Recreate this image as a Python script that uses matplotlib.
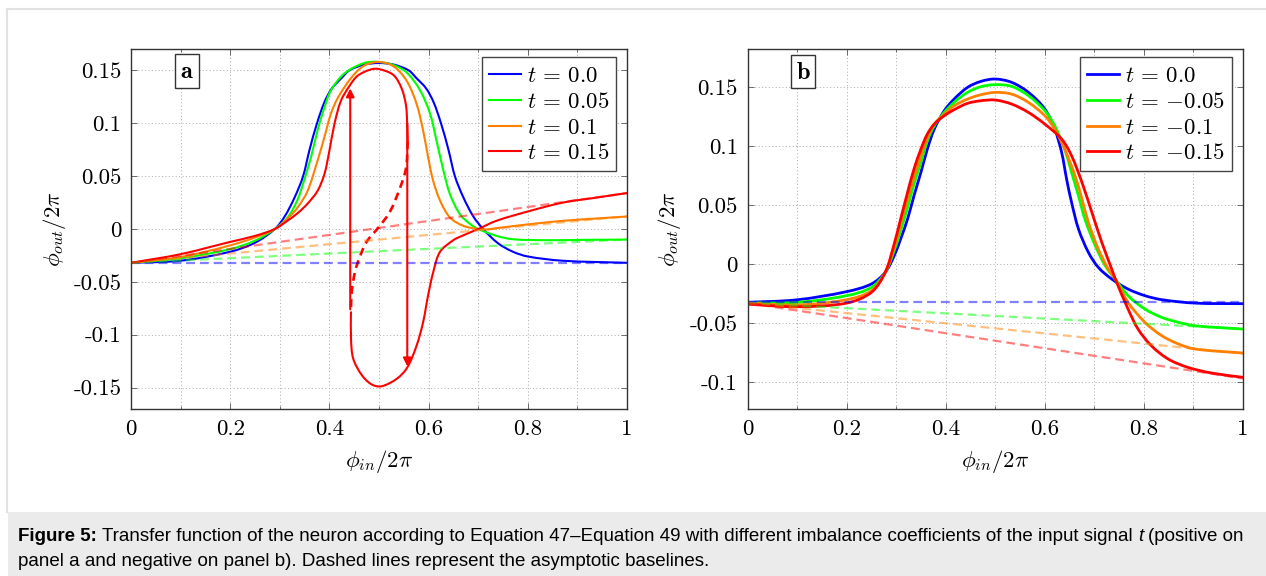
import numpy as np
import matplotlib
matplotlib.use("Agg")
import matplotlib.pyplot as plt
from matplotlib.patches import Rectangle, PathPatch
from matplotlib.lines import Line2D
from matplotlib.path import Path

# transfer function of the neuron
# panel a: positive imbalance t, panel b: negative imbalance t

plt.rcParams["mathtext.fontset"] = "cm"

# ---------------- panel a ----------------
a_blue_x = [0, 0.1, 0.2, 0.25, 0.29, 0.31, 0.33, 0.347, 0.36, 0.375, 0.39, 0.405, 0.425, 0.44, 0.47, 0.5,
            0.53, 0.56, 0.575, 0.595, 0.61, 0.625, 0.64, 0.653, 0.67, 0.69, 0.71, 0.74, 0.77, 0.8, 0.87, 1.0]
a_blue_y = [-0.032, -0.030, -0.0215, -0.013, 0.0, 0.012, 0.030, 0.050, 0.075, 0.100, 0.120, 0.133, 0.143, 0.150, 0.1555, 0.157,
            0.1555, 0.150, 0.143, 0.133, 0.120, 0.100, 0.075, 0.050, 0.030, 0.012, 0.0, -0.0135, -0.0215, -0.026, -0.030, -0.032]

a_green_x = [0, 0.1, 0.2, 0.25, 0.29, 0.316, 0.336, 0.349, 0.363, 0.376, 0.39, 0.403, 0.43, 0.47, 0.5,
             0.53, 0.556, 0.583, 0.603, 0.616, 0.63, 0.643, 0.663, 0.684, 0.70, 0.737, 0.77, 0.838, 0.906, 1.0]
a_green_y = [-0.032, -0.0277, -0.019, -0.011, 0.0, 0.011, 0.028, 0.046, 0.068, 0.093, 0.115, 0.131, 0.147, 0.157, 0.158,
             0.155, 0.148, 0.131, 0.109, 0.0835, 0.055, 0.033, 0.0141, 0.0046, 0.0, -0.0065, -0.0097, -0.0106, -0.0103, -0.0100]

a_orange_x = [0, 0.1, 0.2, 0.25, 0.29, 0.316, 0.336, 0.356, 0.376, 0.39, 0.403, 0.417, 0.444, 0.47, 0.5,
              0.529, 0.556, 0.576, 0.589, 0.599, 0.609, 0.623, 0.643, 0.67, 0.70, 0.72, 0.737, 0.805, 0.872, 0.94, 1.0]
a_orange_y = [-0.032, -0.0265, -0.0155, -0.008, 0.0, 0.010, 0.0204, 0.036, 0.0645, 0.087, 0.109, 0.124, 0.143, 0.1545, 0.158,
              0.154, 0.140, 0.118, 0.093, 0.068, 0.046, 0.027, 0.0109, 0.003, 0.0, -0.0003, 0.0008, 0.0046, 0.0078, 0.010, 0.0118]

# t = 0.15 is bistable: upper stable branch, unstable (dashed) branch, lower stable branch
a_red_up_x = [0, 0.1, 0.2, 0.25, 0.29, 0.316, 0.336, 0.356, 0.376, 0.39, 0.40, 0.41, 0.423, 0.44, 0.457, 0.484, 0.5,
              0.529, 0.5456, 0.5544, 0.557, 0.558]
a_red_up_y = [-0.032, -0.0238, -0.0122, -0.0065, 0.0, 0.008, 0.015, 0.024, 0.036, 0.052, 0.074, 0.099, 0.121, 0.135, 0.145, 0.151, 0.1513,
              0.1457, 0.133, 0.117, 0.098, 0.083]
a_red_mid_x = [0.558, 0.5544, 0.542, 0.522, 0.5, 0.475, 0.46, 0.4516, 0.445, 0.4435]
a_red_mid_y = [0.083, 0.0573, 0.0384, 0.0163, 0.002, -0.0121, -0.028, -0.0405, -0.0595, -0.0784]
a_red_low_x = [0.4435, 0.4436, 0.448, 0.465, 0.485, 0.505, 0.536, 0.557, 0.576, 0.589, 0.599, 0.6095, 0.623, 0.65, 0.663,
               0.70, 0.737, 0.805, 0.872, 0.94, 1.0]
a_red_low_y = [-0.078, -0.104, -0.1226, -0.138, -0.147, -0.1488, -0.1416, -0.131, -0.110, -0.088, -0.0627, -0.0405, -0.0216, -0.0105, -0.0074,
               0.0, 0.0078, 0.0172, 0.0251, 0.0298, 0.034]

# jumps of the hysteresis loop (x, y_from, y_to)
a_jump_up = (0.442, -0.076, 0.133)
a_jump_down = (0.557, 0.10, -0.130)

# asymptotic baselines (end points)
a_base_x = [0, 1]
a_base_blue = [-0.032, -0.032]
a_base_green = [-0.032, -0.010]
a_base_orange = [-0.032, 0.012]
a_base_red = [-0.032, 0.034]

a_labels = [r"$t\,=\,0.0$", r"$t\,=\,0.05$", r"$t\,=\,0.1$", r"$t\,=\,0.15$"]

# ---------------- panel b ----------------
b_rise_x = [0, 0.1, 0.2, 0.25, 0.278, 0.296, 0.309, 0.323, 0.336, 0.35, 0.363, 0.377, 0.397, 0.417, 0.444, 0.471, 0.5]

b_blue_y_rise = [-0.0325, -0.0303, -0.0234, -0.0169, -0.007, 0.007, 0.0212, 0.0381, 0.0579, 0.0777, 0.0975, 0.1144, 0.1299, 0.1398, 0.1497, 0.1548, 0.1568]
b_blue_x_fall = [0.533, 0.567, 0.6, 0.62, 0.634, 0.644, 0.654, 0.668, 0.688, 0.708, 0.735, 0.768, 0.802, 0.836, 0.903, 1.0]
b_blue_y_fall = [0.154, 0.1455, 0.1314, 0.1144, 0.0946, 0.072, 0.0523, 0.0297, 0.0099, -0.0028, -0.0127, -0.0212, -0.0268, -0.0302, -0.0331, -0.0336]

b_green_y_rise = [-0.033, -0.0325, -0.0268, -0.0198, -0.007, 0.0113, 0.0282, 0.048, 0.0678, 0.0862, 0.1045, 0.1172, 0.1285, 0.137, 0.1455, 0.1503, 0.152]
b_green_x_fall = [0.533, 0.567, 0.6, 0.62, 0.64, 0.654, 0.668, 0.681, 0.702, 0.722, 0.742, 0.768, 0.802, 0.836, 0.87, 0.903, 1.0]
b_green_y_fall = [0.1506, 0.1427, 0.13, 0.1172, 0.0975, 0.0777, 0.0579, 0.0381, 0.0155, -0.0014, -0.0127, -0.0268, -0.0381, -0.0452, -0.0494, -0.0523, -0.0551]

b_orange_y_rise = [-0.033, -0.0347, -0.0302, -0.0226, -0.007, 0.0141, 0.0339, 0.055, 0.0734, 0.0918, 0.1073, 0.1186, 0.127, 0.1341, 0.1398, 0.1435, 0.1455]
b_orange_x_fall = [0.533, 0.567, 0.6, 0.62, 0.64, 0.661, 0.675, 0.688, 0.708, 0.728, 0.742, 0.768, 0.802, 0.836, 0.87, 0.903, 1.0]
b_orange_y_fall = [0.144, 0.137, 0.1257, 0.1144, 0.0975, 0.0749, 0.055, 0.0353, 0.0127, -0.0042, -0.0127, -0.0325, -0.0494, -0.0607, -0.0678, -0.072, -0.0754]

b_red_y_rise = [-0.034, -0.0362, -0.0331, -0.024, -0.007, 0.017, 0.0381, 0.0607, 0.0805, 0.0975, 0.1102, 0.1186, 0.1257, 0.1308, 0.1362, 0.1384, 0.139]
b_red_x_fall = [0.533, 0.567, 0.6, 0.634, 0.654, 0.675, 0.695, 0.715, 0.735, 0.745, 0.768, 0.788, 0.815, 0.849, 0.889, 0.937, 1.0]
b_red_y_fall = [0.1356, 0.1285, 0.1186, 0.1059, 0.0918, 0.0692, 0.0438, 0.0184, -0.0042, -0.0155, -0.0381, -0.055, -0.0692, -0.0805, -0.0876, -0.0924, -0.096]

b_base_x = [0, 1]
b_base_blue = [-0.0325, -0.0325]
b_base_green = [-0.033, -0.055]
b_base_orange = [-0.033, -0.076]
b_base_red = [-0.033, -0.097]

b_labels = [r"$t\,=\,0.0$", r"$t\,=\,{-0.05}$", r"$t\,=\,{-0.1}$", r"$t\,=\,{-0.15}$"]

# ticks
x_ticks = [0, 0.2, 0.4, 0.6, 0.8, 1]
x_tick_labels = ["0", "0.2", "0.4", "0.6", "0.8", "1"]
a_y_ticks = [-0.15, -0.1, -0.05, 0, 0.05, 0.1, 0.15]
a_y_tick_labels = ["-0.15", "-0.1", "-0.05", "0", "0.05", "0.1", "0.15"]
b_y_ticks = [-0.1, -0.05, 0, 0.05, 0.1, 0.15]
b_y_tick_labels = ["-0.1", "-0.05", "0", "0.05", "0.1", "0.15"]

caption_1 = [("Figure 5:", "bold", "normal"),
             ("Transfer function of the neuron according to Equation 47\u2013Equation 49 with different imbalance coefficients of the input signal", "normal", "normal"),
             ("t", "normal", "italic"),
             ("(positive on", "normal", "normal")]
caption_2 = [("panel a and negative on panel b). Dashed lines represent the asymptotic baselines.", "normal", "normal")]

BLUE, GREEN, ORANGE, RED = "#0000ff", "#00ff00", "#ff8000", "#ff0000"
FS = 16.5

W, H = 1266, 576
fig = plt.figure(figsize=(W / 100, H / 100), dpi=100)

# outer frame and caption box
fig.add_artist(Line2D([7 / W, 1], [1 - 9 / H, 1 - 9 / H], color="#e2e2e2", lw=1.5))
fig.add_artist(Line2D([7 / W, 7 / W], [1 - 9 / H, 1 - 512 / H], color="#e2e2e2", lw=1.5))
fig.add_artist(Rectangle((8 / W, 0), 1 - 8 / W, 1 - 512 / H, color="#ebebeb", lw=0))

ax_a = fig.add_axes([131 / W, 1 - 408.7 / H, 496 / W, 359.4 / H])
ax_b = fig.add_axes([747.5 / W, 1 - 408.7 / H, 495.5 / W, 359.4 / H])


def smooth_line(ax, xs, ys, sy, **kw):
    # chord-length Catmull-Rom through the read points, drawn as cubic Bezier pieces
    # sy: pixels per y unit relative to x (so the tangents are taken in screen space)
    sx = 496.0
    p = np.column_stack([np.asarray(xs, float) * sx, np.asarray(ys, float) * sy])
    n = len(p)
    d = np.hypot(*np.diff(p, axis=0).T)
    tang = np.zeros_like(p)
    tang[0] = (p[1] - p[0]) / d[0]
    tang[-1] = (p[-1] - p[-2]) / d[-1]
    for i in range(1, n - 1):
        tang[i] = (p[i + 1] - p[i - 1]) / (d[i - 1] + d[i])
    verts = [p[0]]
    codes = [Path.MOVETO]
    for i in range(n - 1):
        verts += [p[i] + tang[i] * d[i] / 3, p[i + 1] - tang[i + 1] * d[i] / 3, p[i + 1]]
        codes += [Path.CURVE4] * 3
    verts = np.array(verts) / [sx, sy]
    ax.add_patch(PathPatch(Path(verts, codes), fill=False, joinstyle="round", capstyle="butt", **kw))


def style_axes(ax, yticks, ylabels, ylim, ylabelpad):
    ax.set_xlim(0, 1)
    ax.set_ylim(*ylim)
    ax.set_xticks(x_ticks)
    ax.set_xticks([0.1, 0.3, 0.5, 0.7, 0.9], minor=True)
    ax.set_xticklabels(x_tick_labels, fontfamily="cmr10", fontsize=FS)
    ax.set_yticks(yticks)
    ax.set_yticklabels(ylabels, fontfamily="cmr10", fontsize=FS)
    ax.tick_params(which="both", direction="in", top=True, right=True, width=0.6, color="#555555")
    ax.tick_params(which="major", length=4)
    ax.tick_params(which="minor", length=2.5)
    ax.tick_params(axis="x", pad=8)
    ax.tick_params(axis="y", pad=7)
    ax.grid(True, which="both", linestyle=(0, (1, 2.5)), color="#aaaaaa", linewidth=0.7)
    ax.set_axisbelow(True)
    for s in ax.spines.values():
        s.set_linewidth(1.0)
        s.set_color("#333333")
    ax.set_xlabel(r"$\phi_{in}/2\pi$", fontsize=FS, labelpad=6)
    ax.set_ylabel(r"$\phi_{out}/2\pi$", fontsize=FS, labelpad=ylabelpad)


def legend(ax, labels, colors, lw):
    handles = [Line2D([0], [0], color=c, lw=lw) for c in colors]
    leg = ax.legend(handles, labels, loc="upper right", bbox_to_anchor=(1 - 11 / 496, 1 - 8 / 359.4),
                    borderaxespad=0, fontsize=FS, handlelength=1.4, handletextpad=0.25,
                    labelspacing=0.12, borderpad=0.3, fancybox=False, framealpha=1)
    leg.get_frame().set_edgecolor("#444444")
    leg.get_frame().set_linewidth(1.0)


dash = dict(lw=1.6, alpha=0.5, dashes=(4, 2.2))

# panel a
ax = ax_a
SY_A = 1056.0
ax.plot(a_base_x, a_base_blue, color=BLUE, **dash)
ax.plot(a_base_x, a_base_green, color=GREEN, **dash)
ax.plot(a_base_x, a_base_orange, color=ORANGE, **dash)
ax.plot(a_base_x, a_base_red, color=RED, **dash)
smooth_line(ax, a_blue_x, a_blue_y, SY_A, edgecolor=BLUE, lw=1.5)
smooth_line(ax, a_green_x, a_green_y, SY_A, edgecolor=GREEN, lw=1.5)
smooth_line(ax, a_orange_x, a_orange_y, SY_A, edgecolor=ORANGE, lw=1.5)
smooth_line(ax, a_red_up_x, a_red_up_y, SY_A, edgecolor=RED, lw=1.5)
smooth_line(ax, a_red_low_x, a_red_low_y, SY_A, edgecolor=RED, lw=1.5)
smooth_line(ax, a_red_mid_x, a_red_mid_y, SY_A, edgecolor=RED, lw=1.9, linestyle=(0, (3, 2)))
for xj, y0, y1 in (a_jump_up, a_jump_down):
    ax.annotate("", xy=(xj, y1), xytext=(xj, y0),
                arrowprops=dict(arrowstyle="-|>", color=RED, lw=1.5, mutation_scale=12, shrinkA=0, shrinkB=0))
style_axes(ax, a_y_ticks, a_y_tick_labels, (-0.17, 0.17), 3.5)
legend(ax, a_labels, [BLUE, GREEN, ORANGE, RED], 1.5)
ax.text(0.113, 0.94, r"$\mathbf{a}$", transform=ax.transAxes, fontsize=FS + 1, ha="center", va="center",
        bbox=dict(boxstyle="square,pad=0.2", fc="white", ec="#333333", lw=1.0))

# panel b
ax = ax_b
SY_B = 1180.0
ax.plot(b_base_x, b_base_blue, color=BLUE, **dash)
ax.plot(b_base_x, b_base_green, color=GREEN, **dash)
ax.plot(b_base_x, b_base_orange, color=ORANGE, **dash)
ax.plot(b_base_x, b_base_red, color=RED, **dash)
smooth_line(ax, b_rise_x + b_blue_x_fall, b_blue_y_rise + b_blue_y_fall, SY_B, edgecolor=BLUE, lw=2.0)
smooth_line(ax, b_rise_x + b_green_x_fall, b_green_y_rise + b_green_y_fall, SY_B, edgecolor=GREEN, lw=2.0)
smooth_line(ax, b_rise_x + b_orange_x_fall, b_orange_y_rise + b_orange_y_fall, SY_B, edgecolor=ORANGE, lw=2.0)
smooth_line(ax, b_rise_x + b_red_x_fall, b_red_y_rise + b_red_y_fall, SY_B, edgecolor=RED, lw=2.0)
style_axes(ax, b_y_ticks, b_y_tick_labels, (-0.1226, 0.182), 5)
legend(ax, b_labels, [BLUE, GREEN, ORANGE, RED], 2.0)
ax.text(0.112, 0.938, r"$\mathbf{b}$", transform=ax.transAxes, fontsize=FS + 1, ha="center", va="center",
        bbox=dict(boxstyle="square,pad=0.2", fc="white", ec="#333333", lw=1.0))

# caption, pieces chained left to right
renderer = fig.canvas.get_renderer()
cap_font = dict(fontsize=13.5, fontfamily="Liberation Sans", va="baseline", ha="left")
probe1 = fig.text(0, 0, "x x", **cap_font)
probe2 = fig.text(0, 0, "xx", **cap_font)
space = (probe1.get_window_extent(renderer).width - probe2.get_window_extent(renderer).width) / W
probe1.remove()
probe2.remove()


def caption_line(pieces, y_px):
    x = 18 / W
    for txt, weight, style in pieces:
        t = fig.text(x, 1 - y_px / H, txt, fontweight=weight, fontstyle=style, **cap_font)
        x += t.get_window_extent(renderer).width / W + space


caption_line(caption_1, 541)
caption_line(caption_2, 566)

fig.savefig("out.png", dpi=100)
